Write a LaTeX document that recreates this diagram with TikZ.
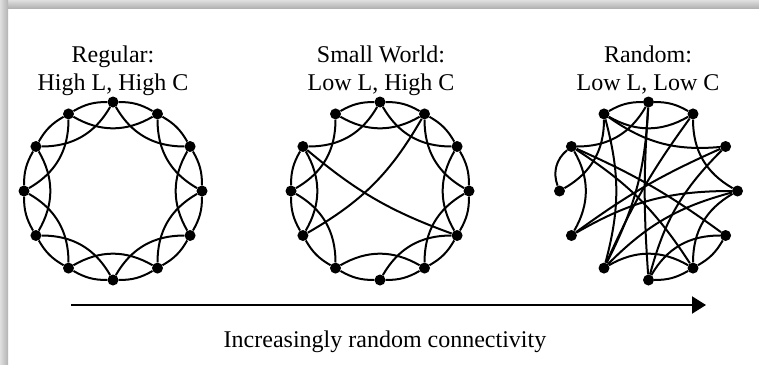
\documentclass[tikz,border=0pt]{standalone}
\usepackage{fontspec}
\setmainfont{Liberation Serif}
\usetikzlibrary{arrows.meta}
\begin{document}
\begin{tikzpicture}[x=1pt,y=1pt,
  dot/.style={circle,fill=black,inner sep=0pt,minimum size=11pt},
  edge/.style={line width=2pt},
  lbl/.style={font=\fontsize{24}{29}\selectfont},
  axis/.style={line width=2pt,-{Triangle[length=14pt,width=17pt]}}]
\useasboundingbox (0,0) rectangle (759,-364);
\fill[white] (0,0) rectangle (759,-364);
\shade[top color=gray!25,bottom color=gray!60] (0,0) rectangle (759,-8);
\shade[left color=gray!25,right color=gray!60] (0,0) rectangle (8,-364);
% labels
\node[lbl,anchor=base] (t1a) at (113,-62) {Regular:};
\node[lbl,anchor=base] (t1b) at (113,-90) {High L, High C};
\node[lbl,anchor=base] (t2a) at (381,-62) {Small World:};
\node[lbl,anchor=base] (t2b) at (381,-90) {Low L, High C};
\node[lbl,anchor=base] (t3a) at (648,-62) {Random:};
\node[lbl,anchor=base] (t3b) at (648,-90) {Low L, Low C};
% regular
\begin{scope}[shift={(113,-191)}]
\foreach \k in {0,...,11} \node[dot] (a\k) at ({90-30*\k}:89) {};
\foreach \k in {0,...,11} {
  \pgfmathtruncatemacro\j{mod(\k+1,12)}
  \pgfmathtruncatemacro\m{mod(\k+2,12)}
  \draw[edge] (a\k) to[bend left=15] (a\j);
  \draw[edge] (a\k) to[bend right=30] (a\m);
}
\end{scope}
% small world
\begin{scope}[shift={(380,-191)}]
\foreach \k in {0,...,11} \node[dot] (b\k) at ({90-30*\k}:89) {};
\foreach \p/\q in {0/1,1/2,2/3,3/4,4/5,5/6,6/7,7/8,8/9,9/10,11/0}
  \draw[edge] (b\p) to[bend left=15] (b\q);
\foreach \p/\q in {0/2,1/3,2/4,3/5,4/6,5/7,7/9,8/10,9/11,10/0,11/1}
  \draw[edge] (b\p) to[bend right=30] (b\q);
\draw[edge] (b10) to[bend right=10] (b4);
\draw[edge] (b1) to[bend left=15] (b8);
\end{scope}
% random
\begin{scope}[shift={(648.5,-191)}]
\foreach \k in {0,...,11} \node[dot] (c\k) at ({90-30*\k}:89) {};
\foreach \p/\q in {11/0,0/1,5/6,4/5}
  \draw[edge] (c\p) to[bend left=15] (c\q);
\draw[edge] (c9) to[bend left=35] (c10);
\foreach \p/\q in {10/0,11/1,9/11,5/7,4/6,3/5,1/3,8/10}
  \draw[edge] (c\p) to[bend right=30] (c\q);
\draw[edge] (c0) to[bend right=4] (c6);
\draw[edge] (c3) to[bend right=15] (c8);
\draw[edge] (c3) to[bend right=15] (c7);
\draw[edge] (c11) to[bend right=20] (c2);
\draw[edge] (c7) to[bend right=15] (c11);
\draw[edge] (c7) to[bend right=12] (c0);
\draw[edge] (c1) to[bend right=6] (c7);
\draw[edge] (c4) to[bend right=6] (c10);
\draw[edge] (c2) to[bend right=15] (c6);
\draw[edge] (c2) to[bend right=6] (c8);
\draw[edge] (c5) to[bend right=12] (c10);
\end{scope}
% axis
\coordinate (ax0) at (71,-305);
\coordinate (ax1) at (706,-305);
\draw[axis] (ax0) -- (ax1);
\node[lbl,anchor=base] (cap) at (385,-347) {Increasingly random connectivity};
\end{tikzpicture}
\end{document}
